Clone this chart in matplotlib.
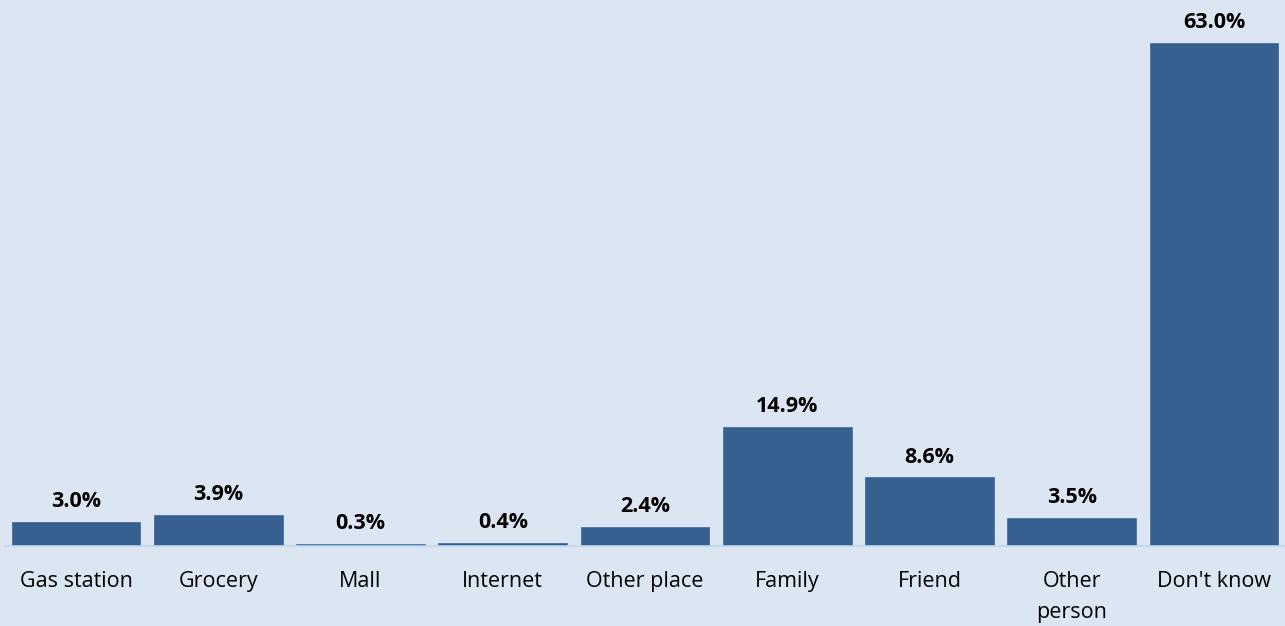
import matplotlib
matplotlib.use("Agg")
import matplotlib.pyplot as plt

categories = ["Gas station", "Grocery", "Mall", "Internet", "Other place",
              "Family", "Friend", "Other\nperson", "Don't know"]
values = [3.0, 3.9, 0.3, 0.4, 2.4, 14.9, 8.6, 3.5, 63.0]

bg = "#DCE6F2"
bar_color = "#35608F"

plt.rcParams['font.family'] = ['Open Sans', 'DejaVu Sans']

fig = plt.figure(figsize=(12.85, 6.26), dpi=100, facecolor=bg)
ax = fig.add_axes([5/1285, 80/626, 1280/1285, 546/626])
ax.set_facecolor(bg)

x = range(len(categories))
bars = ax.bar(x, values, width=0.905, color=bar_color, edgecolor="#4A72A0", linewidth=0.6)
ax.set_xlim(-0.5, len(categories) - 0.5)
ax.set_ylim(0, 68.4)

for xi, v in zip(x, values):
    ax.annotate(f"{v:.1f}%", (xi, v), xytext=(0, 7), textcoords="offset points",
                ha="center", va="bottom", fontsize=15.5, fontweight="bold", color="black")

ax.set_xticks(list(x))
ax.set_xticklabels(categories, fontsize=15.5, linespacing=1.6)
ax.tick_params(axis="x", length=0, pad=18)
ax.set_yticks([])
for s in ["top", "right", "left"]:
    ax.spines[s].set_visible(False)
ax.spines["bottom"].set_color("#BDD7EE")
ax.spines["bottom"].set_linewidth(1.2)

fig.savefig("out.png", dpi=100, facecolor=bg)
